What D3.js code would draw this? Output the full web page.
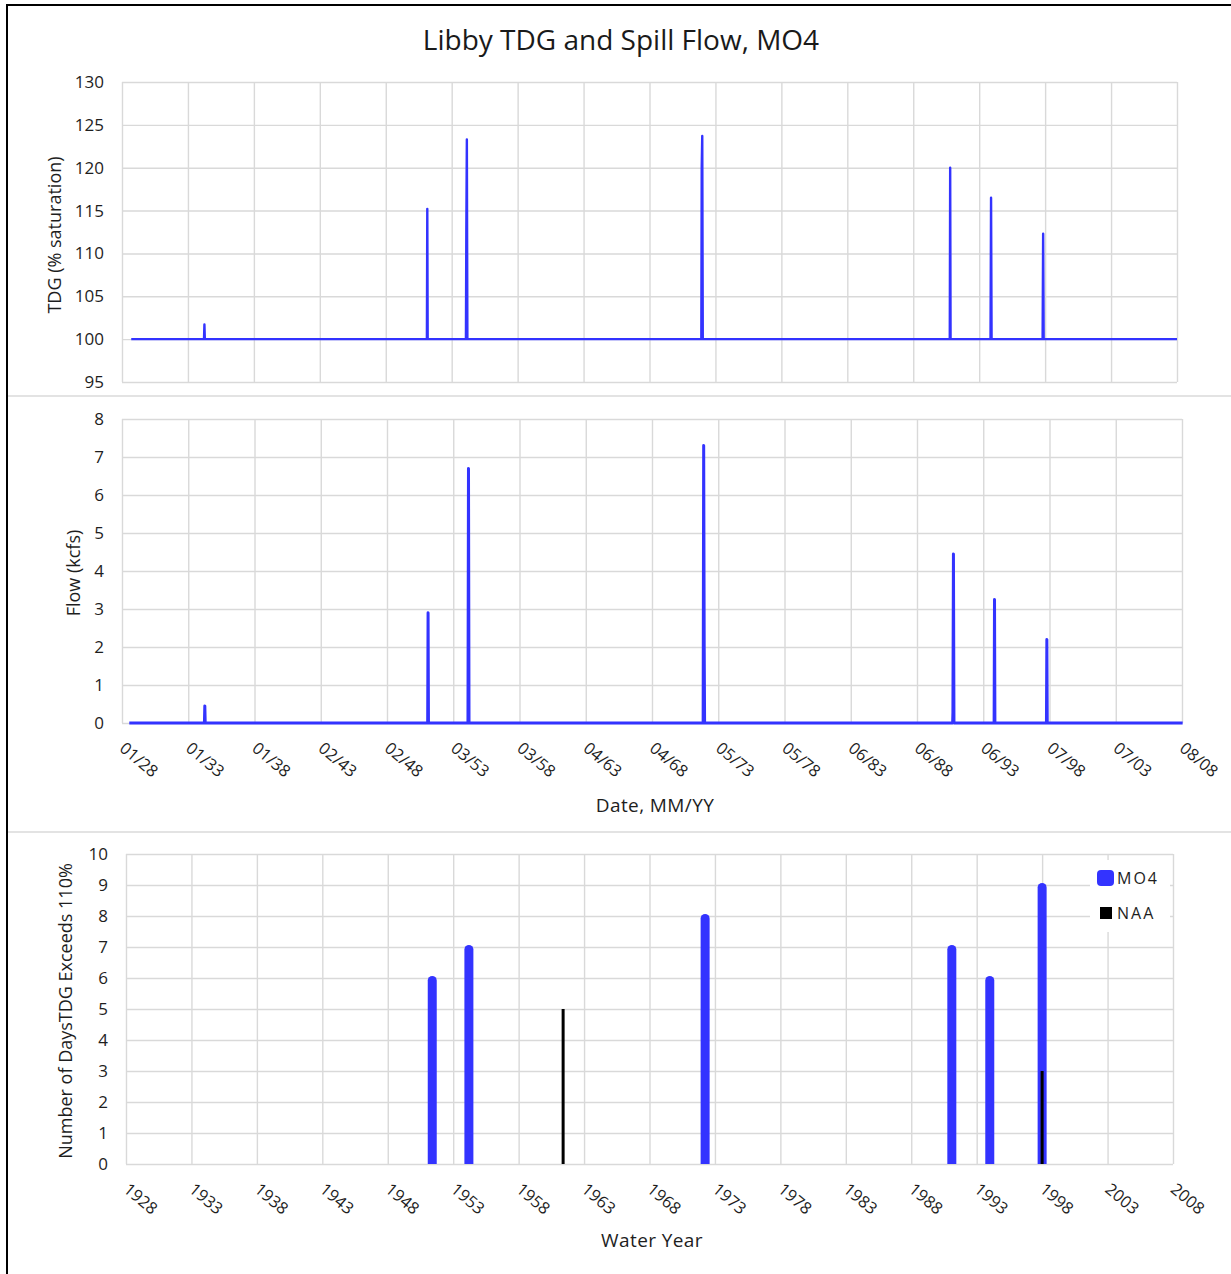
<!DOCTYPE html>
<html><head><meta charset="utf-8">
<script src="https://cdn.jsdelivr.net/npm/d3@7"></script>
<style>
body{margin:0;background:#fff;}
svg{display:block;font-family:"Open Sans",sans-serif;}
</style></head><body><svg id="c" width="1231" height="1274"></svg>
<script>
// ---------- DATA ----------
const dateTickYears  = [1928,1933,1938,1943,1948,1953,1958,1963,1968,1973,1978,1983,1988,1993,1998,2003,2008];
const dateTickLabels = ["01/28","01/33","01/38","02/43","02/48","03/53","03/58","04/63","04/68","05/73","05/78","06/83","06/88","06/93","07/98","07/03","08/08"];
const yearTickLabels = ["1928","1933","1938","1943","1948","1953","1958","1963","1968","1973","1978","1983","1988","1993","1998","2003","2008"];
const tdgTicks  = [95,100,105,110,115,120,125,130];
const flowTicks = [0,1,2,3,4,5,6,7,8];
const daysTicks = [0,1,2,3,4,5,6,7,8,9,10];

// TDG (% saturation) daily trace, decimal-year positions
const tdgDates  = [1928.70,1934.22,1934.25,1934.28,1951.12,1951.15,1951.18,1954.08,1954.11,1954.15,1954.19,1971.93,1971.96,1972.00,1972.04,1990.77,1990.80,1990.83,1993.86,1993.90,1993.94,1997.81,1997.85,1997.89,2008.00];
const tdgValues = [100,100,101.7,100,100,115.2,100,100,112.7,123.3,100,100,120.1,123.7,100,100,120.0,100,100,116.5,100,100,112.3,100,100];

// Spill flow (kcfs)
const flowDates  = [1928.55,1934.22,1934.25,1934.28,1951.07,1951.10,1951.13,1954.11,1954.15,1954.19,1971.86,1971.90,1971.94,1971.97,1990.69,1990.71,1990.75,1990.79,1993.82,1993.85,1993.88,1997.77,1997.80,1997.83,2008.05];
const flowValues = [0,0,0.45,0,0,2.9,0,0,6.7,0,0,7.3,2.0,0,0,0.27,4.45,0,0,3.25,0,0,2.2,0,0];

// Number of days TDG exceeds 110%
const mo4Years = [1951.4,1954.2,1972.25,1991.1,1994.0,1998.0];
const mo4Days  = [6,7,8,7,6,9];
const naaYears = [1961.4,1998.0];
const naaDays  = [5,3];

// ---------- DRAW ----------
const svg = d3.select("#c");
const BLUE = "#3333ff", GRID = "#d9d9d9", TXT = "#1e1e1e";

svg.append("rect").attr("width",1231).attr("height",1274).attr("fill","#fff");
svg.append("rect").attr("x",7).attr("y",5).attr("width",1250).attr("height",1300)
   .attr("fill","none").attr("stroke","#000").attr("stroke-width",2);

[396,832].forEach(yy=>svg.append("line").attr("x1",8).attr("x2",1231).attr("y1",yy).attr("y2",yy)
   .attr("stroke","#e3e3e3").attr("stroke-width",2));

svg.append("text").attr("x",621).attr("y",50).attr("text-anchor","middle")
   .attr("font-size",28).attr("fill","#1a1a1a").text("Libby TDG and Spill Flow, MO4");

function panel(o){
  const g = svg.append("g");
  const x = d3.scaleLinear().domain([1928,2008]).range([o.left,o.right]);
  const y = d3.scaleLinear().domain(o.yDomain).range([o.bottom,o.top]);
  // vertical grid
  g.append("g").attr("transform",`translate(0,${o.bottom})`)
    .call(d3.axisBottom(x).tickValues(dateTickYears).tickSize(-(o.bottom-o.top)).tickFormat(""))
    .call(s=>{s.select(".domain").remove(); s.selectAll("line").attr("stroke",GRID).attr("stroke-width",1.4);});
  // horizontal grid + labels
  g.append("g").attr("transform",`translate(${o.left},0)`)
    .call(d3.axisLeft(y).tickValues(o.yTicks).tickSize(-(o.right-o.left)).tickPadding(18))
    .call(s=>{s.select(".domain").remove();
      s.selectAll("line").attr("stroke",GRID).attr("stroke-width",1.4);
      s.selectAll("text").attr("font-size",17).attr("fill",TXT).attr("font-family","Open Sans");});
  if(o.xLabels){
    g.append("g").selectAll("text").data(dateTickYears).join("text")
      .attr("transform",(d)=>`translate(${x(d)-3.5},${o.bottom+27}) rotate(40)`)
      .attr("font-size",16.5).attr("fill",TXT).text((d,i)=>o.xLabels[i]);
  }
  return {g,x,y};
}

// Top: TDG
const p1 = panel({left:122,right:1177,top:82,bottom:382,yDomain:[95,130],yTicks:tdgTicks});
p1.g.append("path").datum(d3.zip(tdgDates,tdgValues))
  .attr("d",d3.line().x(d=>p1.x(d[0])).y(d=>p1.y(d[1])))
  .attr("fill","none").attr("stroke",BLUE).attr("stroke-width",2.4).attr("stroke-linejoin","round");
svg.append("text").attr("transform","translate(61,235) rotate(-90)").attr("text-anchor","middle")
  .attr("font-size",18).attr("fill",TXT).text("TDG (% saturation)");

// Middle: Flow
const p2 = panel({left:122,right:1182,top:419,bottom:723,yDomain:[0,8],yTicks:flowTicks,xLabels:dateTickLabels});
p2.g.append("path").datum(d3.zip(flowDates,flowValues))
  .attr("d",d3.line().x(d=>p2.x(d[0])).y(d=>p2.y(d[1])))
  .attr("fill","none").attr("stroke",BLUE).attr("stroke-width",3).attr("stroke-linejoin","round");
svg.append("text").attr("transform","translate(80,573) rotate(-90)").attr("text-anchor","middle")
  .attr("font-size",18).attr("fill",TXT).text("Flow (kcfs)");
svg.append("text").attr("x",655).attr("y",812).attr("text-anchor","middle")
  .attr("font-size",19).attr("letter-spacing",0.4).attr("fill",TXT).text("Date, MM/YY");

// Bottom: days exceeding
const p3 = panel({left:126,right:1173,top:854,bottom:1164,yDomain:[0,10],yTicks:daysTicks,xLabels:yearTickLabels});
svg.append("clipPath").attr("id","clip3").append("rect").attr("x",126).attr("y",840).attr("width",1047).attr("height",324);
const bars = p3.g.append("g").attr("clip-path","url(#clip3)");
bars.selectAll("line.mo4").data(d3.zip(mo4Years,mo4Days)).join("line").attr("class","mo4")
  .attr("x1",d=>p3.x(d[0])).attr("x2",d=>p3.x(d[0]))
  .attr("y1",p3.y(0)+6).attr("y2",d=>p3.y(d[1])+2.5)
  .attr("stroke",BLUE).attr("stroke-width",9).attr("stroke-linecap","round");
bars.selectAll("line.naa").data(d3.zip(naaYears,naaDays)).join("line").attr("class","naa")
  .attr("x1",d=>p3.x(d[0])).attr("x2",d=>p3.x(d[0]))
  .attr("y1",p3.y(0)).attr("y2",d=>p3.y(d[1]))
  .attr("stroke","#000").attr("stroke-width",3);
svg.append("text").attr("transform","translate(72,1011) rotate(-90)").attr("text-anchor","middle")
  .attr("font-size",18).attr("fill",TXT).text("Number of DaysTDG Exceeds 110%");
svg.append("text").attr("x",652).attr("y",1247).attr("text-anchor","middle")
  .attr("font-size",19).attr("letter-spacing",0.4).attr("fill",TXT).text("Water Year");

// Legend
const lg = svg.append("g");
lg.append("rect").attr("x",1090).attr("y",860).attr("width",80).attr("height",72).attr("fill","#fff");
lg.append("rect").attr("x",1097).attr("y",870).attr("width",17).attr("height",16).attr("rx",4).attr("fill",BLUE);
lg.append("text").attr("x",1117).attr("y",884).attr("font-size",16).attr("letter-spacing",2).attr("fill",TXT).text("MO4");
lg.append("rect").attr("x",1100).attr("y",907).attr("width",12).attr("height",12).attr("fill","#000");
lg.append("text").attr("x",1117).attr("y",919).attr("font-size",16).attr("letter-spacing",2).attr("fill",TXT).text("NAA");
</script></body></html>
